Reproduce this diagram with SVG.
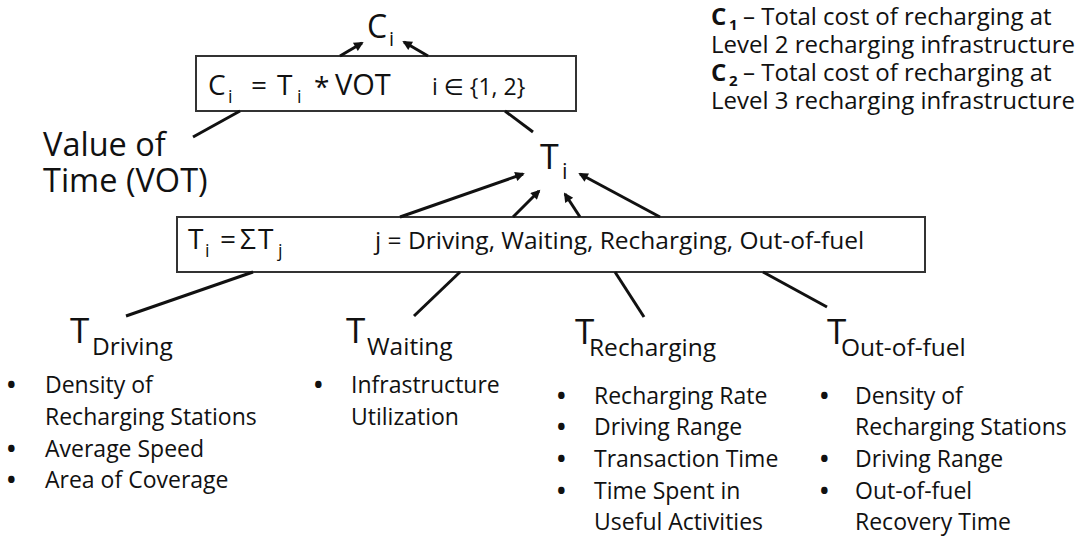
<svg xmlns="http://www.w3.org/2000/svg" width="1086" height="537" viewBox="0 0 1086 537">
<style>
text{font-family:"Open Sans","DejaVu Sans",sans-serif;fill:#111}
.b{font-size:23px}
.lg{font-size:24px}
.big{font-size:35px}
.sub{font-size:24.5px}
.f{font-size:28px}
.fs{font-size:18px}
.dot{font-size:23px;font-weight:bold}
.box{fill:#fff;stroke:#333;stroke-width:2}
.ln{stroke:#111;stroke-width:3;fill:none}
.ar{stroke:#111;stroke-width:3;fill:none;marker-end:url(#ah)}
</style>
<defs>
<marker id="ah" viewBox="0 0 10 10" refX="8" refY="5" markerWidth="3.8" markerHeight="3.2" orient="auto" markerUnits="strokeWidth">
<path d="M0,0 L10,5 L0,10 z" fill="#111"/>
</marker>
</defs>
<rect width="1086" height="537" fill="#fff"/>

<g id="node-Ci">
<text x="367" y="38" style="font-size:32px">C<tspan x="389" y="46" style="font-size:20px">i</tspan></text>
</g>

<g id="node-formula-C">
<rect class="box" x="196" y="56" width="380" height="55"/>
<text class="f" x="208" y="95">C<tspan class="fs" x="228" y="103">i</tspan><tspan x="251" y="95">=</tspan><tspan x="277" y="95">T</tspan><tspan class="fs" x="297" y="103">i</tspan><tspan x="314" y="97">*</tspan><tspan x="335" y="95" style="font-size:29px">VOT</tspan><tspan x="432" y="95" style="font-size:23px">i ∈ {1, 2}</tspan></text>
</g>

<g id="node-VOT">
<text x="43" y="156" style="font-size:32.5px">Value of<tspan x="43" y="192">Time (VOT)</tspan></text>
</g>

<g id="node-Ti">
<text x="540" y="169" style="font-size:34px">T<tspan x="562" y="179" style="font-size:22px">i</tspan></text>
</g>

<g id="node-formula-T">
<rect class="box" x="177" y="217" width="748" height="55"/>
<text class="f" x="188" y="249">T<tspan class="fs" x="205" y="257">i</tspan><tspan x="220" y="249">=</tspan><tspan x="240" y="249">Σ</tspan><tspan x="258" y="249">T</tspan><tspan class="fs" x="278" y="257">j</tspan><tspan x="375" y="249" style="font-size:24.5px">j = Driving, Waiting, Recharging, Out-of-fuel</tspan></text>
</g>

<g id="node-T-Driving">
<text class="big" x="70" y="343">T<tspan class="sub" x="92" y="355">Driving</tspan></text>
<text class="b" x="45" y="393"><tspan class="dot" x="7" y="393">•</tspan><tspan x="45" y="393">Density of</tspan><tspan x="45" y="425">Recharging Stations</tspan><tspan class="dot" x="7" y="457">•</tspan><tspan x="45" y="457">Average Speed</tspan><tspan class="dot" x="7" y="488">•</tspan><tspan x="45" y="488">Area of Coverage</tspan></text>
</g>

<g id="node-T-Waiting">
<text class="big" x="346" y="343">T<tspan class="sub" x="367" y="355">Waiting</tspan></text>
<text class="b" x="351" y="393"><tspan class="dot" x="314" y="393">•</tspan><tspan x="351" y="393">Infrastructure</tspan><tspan x="351" y="425">Utilization</tspan></text>
</g>

<g id="node-T-Recharging">
<text class="big" x="575" y="344">T<tspan class="sub" x="589" y="356">Recharging</tspan></text>
<text class="b" x="594" y="404"><tspan class="dot" x="557" y="404">•</tspan><tspan x="594" y="404">Recharging Rate</tspan><tspan class="dot" x="557" y="435">•</tspan><tspan x="594" y="435">Driving Range</tspan><tspan class="dot" x="557" y="467">•</tspan><tspan x="594" y="467">Transaction Time</tspan><tspan class="dot" x="557" y="499">•</tspan><tspan x="594" y="499">Time Spent in</tspan><tspan x="594" y="530">Useful Activities</tspan></text>
</g>

<g id="node-T-Out-of-fuel">
<text class="big" x="827" y="344">T<tspan class="sub" x="841" y="356">Out-of-fuel</tspan></text>
<text class="b" x="855" y="404"><tspan class="dot" x="820" y="404">•</tspan><tspan x="855" y="404">Density of</tspan><tspan x="855" y="435">Recharging Stations</tspan><tspan class="dot" x="820" y="467">•</tspan><tspan x="855" y="467">Driving Range</tspan><tspan class="dot" x="820" y="499">•</tspan><tspan x="855" y="499">Out-of-fuel</tspan><tspan x="855" y="530">Recovery Time</tspan></text>
</g>

<g id="legend">
<text class="lg" x="711" y="25"><tspan font-weight="bold">C</tspan><tspan font-weight="bold" font-size="15" x="729" y="30">1</tspan><tspan x="743" y="25">– Total cost of recharging at</tspan><tspan x="711" y="53">Level 2 recharging infrastructure</tspan><tspan font-weight="bold" x="711" y="81">C</tspan><tspan font-weight="bold" font-size="15" x="729" y="86">2</tspan><tspan x="743" y="81">– Total cost of recharging at</tspan><tspan x="711" y="109">Level 3 recharging infrastructure</tspan></text>
</g>

<g id="connectors">
<line class="ar" x1="340" y1="56" x2="362" y2="43"/>
<line class="ar" x1="428" y1="56" x2="404" y2="42"/>
<line class="ln" x1="240" y1="111" x2="193" y2="137"/>
<line class="ln" x1="505" y1="111" x2="533" y2="132"/>
<line class="ar" x1="400" y1="217" x2="523" y2="174"/>
<line class="ar" x1="513" y1="217" x2="539" y2="191"/>
<line class="ar" x1="580" y1="217" x2="565" y2="194"/>
<line class="ar" x1="660" y1="217" x2="580" y2="174"/>
<line class="ln" x1="253" y1="272" x2="126" y2="316"/>
<line class="ln" x1="460" y1="272" x2="414" y2="316"/>
<line class="ln" x1="615" y1="272" x2="644" y2="317"/>
<line class="ln" x1="763" y1="272" x2="827" y2="307"/>
</g>
</svg>
